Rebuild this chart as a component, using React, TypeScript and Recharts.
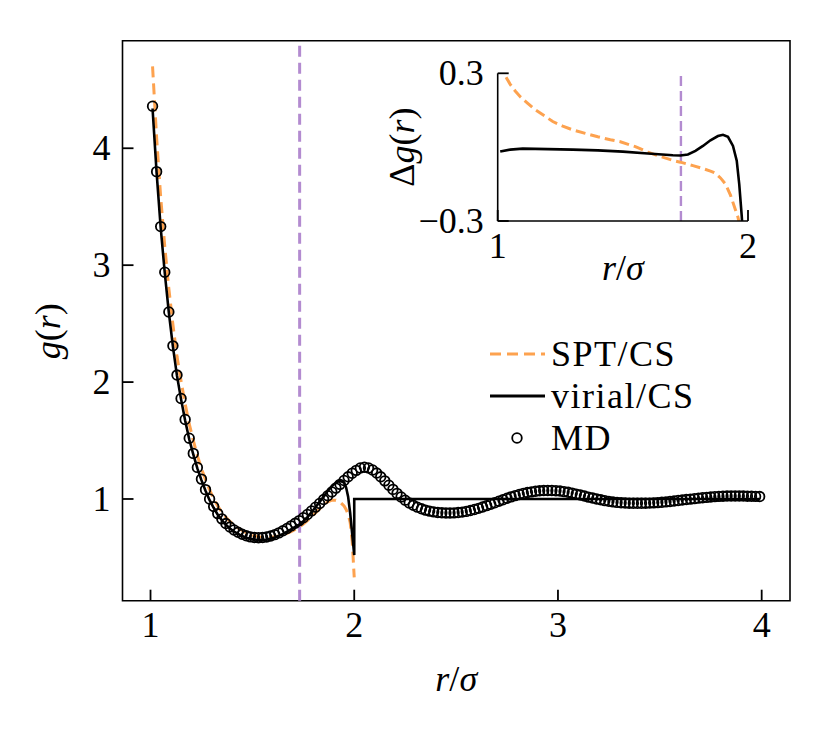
import React from 'react';
import { LineChart, Line, XAxis, YAxis, ReferenceLine, ReferenceArea, Legend, Label } from 'recharts';

const FONT = "'Liberation Serif', 'Times New Roman', Times, 'DejaVu Serif', 'Noto Serif', serif";
const ORANGE = '#fda24f';
const PURPLE = '#b38bd0';

// ---- main axes ----
const xTicksMain = [1, 2, 3, 4];
const yTicksMain = [1, 2, 3, 4];
const xDomainMain: [number, number] = [0.8625, 4.139];
const yDomainMain: [number, number] = [0.13, 4.92];
const sigmaLine = 1.732;

// ---- inset axes ----
const xTicksInset = [1, 2];
const yTicksInset = [-0.3, 0.3];
const xDomainInset: [number, number] = [1, 2];
const yDomainInset: [number, number] = [-0.3, 0.3];

// MD g(r)
const mdPairs: number[][] = [
  [1.01, 4.36], [1.03, 3.8], [1.05, 3.33], [1.07, 2.94], [1.09, 2.6], [1.11, 2.31], [1.13, 2.06], [1.15, 1.86],
  [1.17, 1.68], [1.19, 1.52], [1.21, 1.39], [1.23, 1.27], [1.25, 1.17], [1.27, 1.08], [1.29, 1.0], [1.31, 0.935],
  [1.33, 0.875], [1.35, 0.83], [1.37, 0.79], [1.39, 0.76], [1.41, 0.735], [1.43, 0.715], [1.45, 0.698], [1.47, 0.685],
  [1.49, 0.676], [1.51, 0.671], [1.53, 0.669], [1.55, 0.67], [1.57, 0.675], [1.59, 0.683], [1.61, 0.695], [1.63, 0.71],
  [1.65, 0.728], [1.67, 0.748], [1.69, 0.77], [1.71, 0.792], [1.73, 0.815], [1.75, 0.84], [1.77, 0.868], [1.79, 0.898],
  [1.81, 0.93], [1.83, 0.962], [1.85, 0.995], [1.87, 1.028], [1.89, 1.06], [1.91, 1.093], [1.93, 1.125], [1.95, 1.158],
  [1.97, 1.19], [1.99, 1.22], [2.01, 1.245], [2.03, 1.265], [2.05, 1.272], [2.07, 1.265], [2.09, 1.248], [2.11, 1.222],
  [2.13, 1.19], [2.15, 1.155], [2.17, 1.118], [2.19, 1.082], [2.21, 1.048], [2.23, 1.017], [2.25, 0.99], [2.27, 0.966],
  [2.29, 0.946], [2.31, 0.93], [2.33, 0.916], [2.35, 0.905], [2.37, 0.896], [2.39, 0.89], [2.41, 0.885], [2.43, 0.882],
  [2.45, 0.88], [2.47, 0.88], [2.49, 0.881], [2.51, 0.884], [2.53, 0.888], [2.55, 0.894], [2.57, 0.901], [2.59, 0.91],
  [2.61, 0.92], [2.63, 0.931], [2.65, 0.943], [2.67, 0.955], [2.69, 0.968], [2.71, 0.981], [2.73, 0.994], [2.75, 1.006],
  [2.77, 1.018], [2.79, 1.029], [2.81, 1.039], [2.83, 1.048], [2.85, 1.055], [2.87, 1.061], [2.89, 1.066], [2.91, 1.07],
  [2.93, 1.072], [2.95, 1.073], [2.97, 1.073], [2.99, 1.071], [3.01, 1.068], [3.03, 1.063], [3.05, 1.057], [3.07, 1.05],
  [3.09, 1.042], [3.11, 1.034], [3.13, 1.025], [3.15, 1.016], [3.17, 1.008], [3.19, 1.0], [3.21, 0.993], [3.23, 0.986],
  [3.25, 0.98], [3.27, 0.975], [3.29, 0.971], [3.31, 0.968], [3.33, 0.966], [3.35, 0.964], [3.37, 0.963], [3.39, 0.963],
  [3.41, 0.963], [3.43, 0.964], [3.45, 0.965], [3.47, 0.967], [3.49, 0.969], [3.51, 0.972], [3.53, 0.975], [3.55, 0.979],
  [3.57, 0.983], [3.59, 0.987], [3.61, 0.991], [3.63, 0.995], [3.65, 0.999], [3.67, 1.003], [3.69, 1.007], [3.71, 1.011],
  [3.73, 1.014], [3.75, 1.017], [3.77, 1.02], [3.79, 1.022], [3.81, 1.024], [3.83, 1.025], [3.85, 1.026], [3.87, 1.026],
  [3.89, 1.026], [3.91, 1.025], [3.93, 1.024], [3.95, 1.023], [3.97, 1.022], [3.99, 1.021],
];

// SPT/CS g(r)
const sptPairs: number[][] = [
  [1.01, 4.7], [1.03, 4.09], [1.05, 3.58], [1.07, 3.16], [1.09, 2.8], [1.11, 2.49], [1.13, 2.22], [1.15, 2.007],
  [1.17, 1.814], [1.19, 1.642], [1.21, 1.501], [1.23, 1.371], [1.25, 1.262], [1.27, 1.164], [1.29, 1.077], [1.31, 1.005],
  [1.33, 0.939], [1.35, 0.888], [1.37, 0.843], [1.39, 0.808], [1.41, 0.778], [1.43, 0.752], [1.45, 0.73], [1.47, 0.712],
  [1.49, 0.697], [1.51, 0.686], [1.53, 0.678], [1.55, 0.673], [1.57, 0.671], [1.59, 0.672], [1.61, 0.677], [1.63, 0.684],
  [1.65, 0.695], [1.67, 0.707], [1.69, 0.721], [1.71, 0.739], [1.73, 0.76], [1.75, 0.785], [1.77, 0.815], [1.79, 0.85],
  [1.81, 0.882], [1.83, 0.915], [1.85, 0.948], [1.87, 0.975], [1.89, 0.99], [1.91, 0.99], [1.93, 0.975], [1.95, 0.94],
  [1.96, 0.91], [1.97, 0.87], [1.98, 0.8], [1.99, 0.64], [2.0, 0.33],
];

// virial/CS g(r)
const virialPairs: number[][] = [
  [1.01, 4.34], [1.03, 3.79], [1.05, 3.32], [1.07, 2.933], [1.09, 2.594], [1.11, 2.304], [1.13, 2.053], [1.15, 1.852],
  [1.17, 1.671], [1.19, 1.511], [1.21, 1.381], [1.23, 1.261], [1.25, 1.161], [1.27, 1.07], [1.29, 0.99], [1.31, 0.925],
  [1.33, 0.865], [1.35, 0.819], [1.37, 0.779], [1.39, 0.748], [1.41, 0.722], [1.43, 0.701], [1.45, 0.683], [1.47, 0.669],
  [1.49, 0.659], [1.51, 0.653], [1.53, 0.65], [1.55, 0.65], [1.57, 0.654], [1.59, 0.661], [1.61, 0.671], [1.63, 0.685],
  [1.65, 0.702], [1.67, 0.72], [1.69, 0.741], [1.71, 0.762], [1.73, 0.781], [1.75, 0.81], [1.77, 0.845], [1.79, 0.885],
  [1.81, 0.93], [1.83, 0.975], [1.85, 1.02], [1.87, 1.07], [1.89, 1.11], [1.91, 1.14], [1.93, 1.155], [1.95, 1.14],
  [1.96, 1.1], [1.97, 1.02], [1.98, 0.88], [1.99, 0.7], [2.0, 0.52], [2.0, 1.0], [3.99, 1.0],
];

// inset: Delta g(r) for SPT/CS
const dSptPairs: number[][] = [
  [1.01, 0.34], [1.03, 0.29], [1.05, 0.255], [1.07, 0.228], [1.09, 0.205], [1.12, 0.178], [1.15, 0.152], [1.19, 0.125],
  [1.22, 0.104], [1.26, 0.085], [1.3, 0.07], [1.35, 0.056], [1.4, 0.042], [1.45, 0.03], [1.49, 0.022], [1.55, 0.002],
  [1.6, -0.02], [1.65, -0.038], [1.7, -0.054], [1.73, -0.061], [1.78, -0.075], [1.82, -0.087], [1.85, -0.097],
  [1.87, -0.106], [1.89, -0.125], [1.91, -0.15], [1.93, -0.195], [1.95, -0.255], [1.96, -0.285], [1.97, -0.33],
];

// inset: Delta g(r) for virial/CS
const dVirPairs: number[][] = [
  [1.01, -0.018], [1.05, -0.01], [1.1, -0.006], [1.2, -0.008], [1.3, -0.01], [1.4, -0.013], [1.5, -0.018],
  [1.6, -0.026], [1.7, -0.033], [1.73, -0.034], [1.76, -0.03], [1.79, -0.015], [1.82, 0.005], [1.85, 0.028],
  [1.88, 0.045], [1.9, 0.05], [1.92, 0.042], [1.94, 0.005], [1.955, -0.055], [1.965, -0.15], [1.975, -0.28], [1.98, -0.36],
];

const toRows = (pairs: number[][]) => pairs.map(([r, g]) => ({ r, g }));
const mdData = toRows(mdPairs);
const sptData = toRows(sptPairs);
const virialData = toRows(virialPairs);
const dSptData = toRows(dSptPairs);
const dVirData = toRows(dVirPairs);

const fmt = (v: number) => (v < 0 ? '\u2212' + String(Math.abs(v)) : String(v));

const txt = { fontFamily: FONT, fontSize: 36, fill: '#000' };

const MainXTick = (props: any) => {
  const { x, y, payload } = props;
  return (
    <g>
      <line x1={x} x2={x} y1={y} y2={y - 11} stroke="#000" strokeWidth={1.8} />
      <text x={x} y={y + 36} textAnchor="middle" style={txt}>{fmt(payload.value)}</text>
    </g>
  );
};
const MainYTick = (props: any) => {
  const { x, y, payload } = props;
  return (
    <g>
      <line x1={x} x2={x + 11} y1={y} y2={y} stroke="#000" strokeWidth={1.8} />
      <text x={x - 12} y={y + 12} textAnchor="end" style={txt}>{fmt(payload.value)}</text>
    </g>
  );
};
const InsetXTick = (props: any) => {
  const { x, y, payload } = props;
  return (
    <g>
      <line x1={x} x2={x} y1={y} y2={y - 11} stroke="#000" strokeWidth={1.8} />
      <text x={x} y={y + 37} textAnchor="middle" style={txt}>{fmt(payload.value)}</text>
    </g>
  );
};
const InsetYTick = (props: any) => {
  const { x, y, payload } = props;
  return (
    <g>
      <line x1={x} x2={x + 11} y1={y} y2={y} stroke="#000" strokeWidth={1.8} />
      <text x={x - 14} y={y + 12} textAnchor="end" style={txt}>{fmt(payload.value)}</text>
    </g>
  );
};

const RSigma = (p: { x: number; y: number }) => (
  <text x={p.x} y={p.y} textAnchor="middle" style={txt}>
    <tspan fontStyle="italic">r</tspan>
    <tspan>/</tspan>
    <tspan fontStyle="italic">σ</tspan>
  </text>
);

const MainXLabel = (props: any) => {
  const vb = props.viewBox || {};
  return <RSigma x={vb.x + vb.width / 2} y={vb.y + 90} />;
};
const MainYLabel = (props: any) => {
  const vb = props.viewBox || {};
  const cx = vb.x - 2.5;
  const cy = vb.y + vb.height / 2 + 10.5;
  return (
    <text x={cx} y={cy} textAnchor="middle" style={txt} transform={`rotate(-90, ${cx}, ${cy})`}>
      <tspan fontStyle="italic">g</tspan>
      <tspan>(</tspan>
      <tspan fontStyle="italic">r</tspan>
      <tspan>)</tspan>
    </text>
  );
};
const InsetXLabel = (props: any) => {
  const vb = props.viewBox || {};
  return <RSigma x={vb.x + vb.width / 2} y={vb.y + 59} />;
};
const InsetYLabel = (props: any) => {
  const vb = props.viewBox || {};
  const cx = vb.x - 23.7;
  const cy = vb.y + vb.height / 2;
  return (
    <text x={cx} y={cy} textAnchor="middle" style={txt} transform={`rotate(-90, ${cx}, ${cy})`}>
      <tspan>Δ</tspan>
      <tspan fontStyle="italic">g</tspan>
      <tspan>(</tspan>
      <tspan fontStyle="italic">r</tspan>
      <tspan>)</tspan>
    </text>
  );
};

const legendItems = [
  { name: 'SPT/CS', kind: 'dash' },
  { name: 'virial/CS', kind: 'line' },
  { name: 'MD', kind: 'dot' },
];

const LegendContent = () => (
  <svg width={260} height={140}>
    {legendItems.map((it, i) => {
      const cy = 26 + i * 42;
      return (
        <g key={it.name}>
          {it.kind === 'dash' && (
            <line x1={12} x2={67} y1={cy} y2={cy} stroke={ORANGE} strokeWidth={3} strokeDasharray="11 6" />
          )}
          {it.kind === 'line' && <line x1={12} x2={67} y1={cy} y2={cy} stroke="#000" strokeWidth={3} />}
          {it.kind === 'dot' && <circle cx={39} cy={cy} r={4.8} stroke="#000" strokeWidth={1.8} fill="none" />}
          <text x={73} y={cy + 12} style={{ ...txt, letterSpacing: 1.5 }}>{it.name}</text>
        </g>
      );
    })}
  </svg>
);

export default function App() {
  return (
    <div style={{ position: 'relative', width: 814, height: 722, background: '#fff', fontFamily: FONT }}>
      <LineChart width={814} height={722} margin={{ top: 32.7, right: 32, bottom: 89.3, left: 54.5 }}>
        <XAxis
          dataKey="r"
          type="number"
          domain={xDomainMain}
          ticks={xTicksMain}
          allowDataOverflow
          axisLine={false}
          tickLine={false}
          tickSize={0}
          tickMargin={0}
          interval={0}
          height={40}
          tick={<MainXTick />}
        >
          <Label content={MainXLabel} />
        </XAxis>
        <YAxis
          type="number"
          domain={yDomainMain}
          ticks={yTicksMain}
          allowDataOverflow
          axisLine={false}
          tickLine={false}
          tickSize={0}
          tickMargin={0}
          interval={0}
          width={60}
          tick={<MainYTick />}
        >
          <Label content={MainYLabel} />
        </YAxis>
        <ReferenceArea
          x1={xDomainMain[0]}
          x2={xDomainMain[1]}
          y1={yDomainMain[0]}
          y2={yDomainMain[1]}
          fill="none"
          fillOpacity={0}
          stroke="#000"
          strokeWidth={1.6}
          ifOverflow="visible"
        />
        <ReferenceLine x={sigmaLine} stroke={PURPLE} strokeWidth={3} strokeDasharray="11 6" />
        <Line
          data={sptData}
          dataKey="g"
          type="linear"
          stroke={ORANGE}
          strokeWidth={3}
          strokeDasharray="11 6"
          dot={false}
          activeDot={false}
          isAnimationActive={false}
        />
        <Line
          data={virialData}
          dataKey="g"
          type="linear"
          stroke="#000"
          strokeWidth={2.6}
          dot={false}
          activeDot={false}
          isAnimationActive={false}
        />
        <Line
          data={mdData}
          dataKey="g"
          type="linear"
          stroke="none"
          dot={{ r: 4.8, stroke: '#000', strokeWidth: 1.8, fill: 'none' }}
          activeDot={false}
          isAnimationActive={false}
        />
        <Legend
          verticalAlign="middle"
          align="center"
          content={<LegendContent />}
          wrapperStyle={{ position: 'absolute', left: 470, top: 320, width: 260, height: 140 }}
        />
      </LineChart>

      <div style={{ position: 'absolute', left: 360, top: 30 }}>
        <LineChart width={400} height={253} margin={{ top: 35.3, right: 20, bottom: 40, left: 69.7 }}>
          <XAxis
            dataKey="r"
            type="number"
            domain={xDomainInset}
            ticks={xTicksInset}
            allowDataOverflow
            axisLine={{ stroke: '#000', strokeWidth: 1.6 }}
            tickLine={false}
            tickSize={0}
            tickMargin={0}
            interval={0}
            height={30}
            tick={<InsetXTick />}
          >
            <Label content={InsetXLabel} />
          </XAxis>
          <YAxis
            type="number"
            domain={yDomainInset}
            ticks={yTicksInset}
            allowDataOverflow
            axisLine={{ stroke: '#000', strokeWidth: 1.6 }}
            tickLine={false}
            tickSize={0}
            tickMargin={0}
            interval={0}
            width={60}
            tick={<InsetYTick />}
          >
            <Label content={InsetYLabel} />
          </YAxis>
          <ReferenceLine x={sigmaLine} stroke={PURPLE} strokeWidth={2.4} strokeDasharray="10 5" />
          <Line
            data={dSptData}
            dataKey="g"
            type="linear"
            stroke={ORANGE}
            strokeWidth={3}
            strokeDasharray="10 5"
            dot={false}
            activeDot={false}
            isAnimationActive={false}
          />
          <Line
            data={dVirData}
            dataKey="g"
            type="linear"
            stroke="#000"
            strokeWidth={2.6}
            dot={false}
            activeDot={false}
            isAnimationActive={false}
          />
        </LineChart>
      </div>
    </div>
  );
}
